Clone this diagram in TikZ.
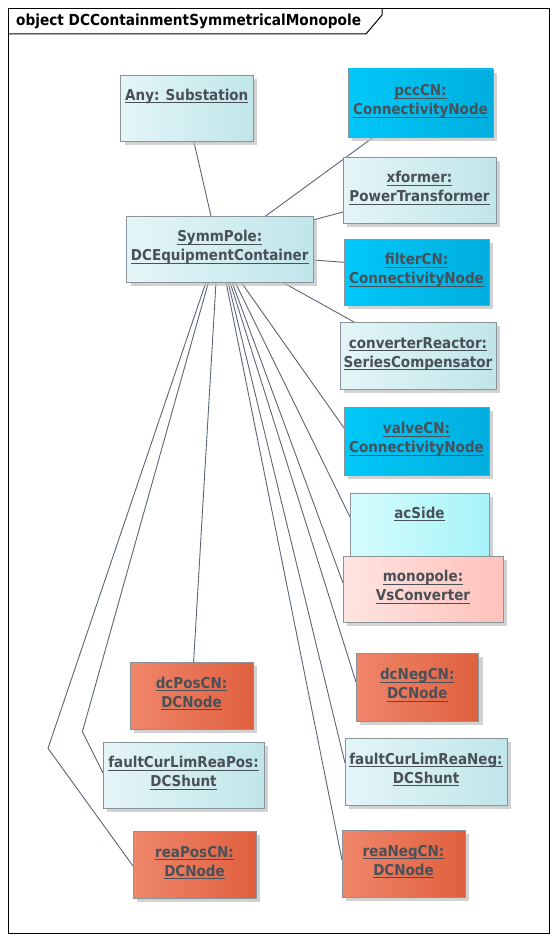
\documentclass[tikz,border=0pt]{standalone}
\usepackage{fontspec}
\setmainfont{DejaVu Sans Condensed}
\usetikzlibrary{shadows,backgrounds}

\definecolor{lightL}{HTML}{E4F5F7}
\definecolor{lightR}{HTML}{C0E6EA}
\definecolor{cnL}{HTML}{00C8F8}
\definecolor{cnR}{HTML}{00AEDF}
\definecolor{acL}{HTML}{D6FCFC}
\definecolor{acR}{HTML}{A6F4F8}
\definecolor{monoL}{HTML}{FFE4E0}
\definecolor{monoR}{HTML}{FFC2BA}
\definecolor{dcL}{HTML}{EF866A}
\definecolor{dcR}{HTML}{E0603F}
\definecolor{boxline}{HTML}{8A9498}
\definecolor{txtgray}{HTML}{4A5058}
\definecolor{linkcol}{HTML}{5B6478}

% underlined object name
\newcommand\ulname[1]{\setbox0\hbox{#1}\rlap{\rule[-3.2pt]{\wd0}{1.1pt}}\box0}
% label block, raised by #1 inside its box
\newcommand\objtext[2]{\raisebox{#1}[0pt][0pt]{\begin{tabular}{@{}c@{}}#2\end{tabular}}}

\begin{document}
\begin{tikzpicture}[
      x=1pt, y=-1pt,
      obj/.style = {draw=boxline, line width=0.9pt, anchor=north west, outer sep=0pt,
                    inner sep=0pt, text=txtgray, font=\fontsize{15}{19}\bfseries\selectfont,
                    drop shadow={shadow xshift=4pt, shadow yshift=-4pt, fill=black!25, opacity=.7}},
      light/.style = {obj, left color=lightL, right color=lightR},
      cn/.style = {obj, left color=cnL, right color=cnR},
      ac/.style = {obj, left color=acL, right color=acR},
      mono/.style = {obj, left color=monoL, right color=monoR},
      dc/.style = {obj, left color=dcL, right color=dcR},
      link/.style = {draw=linkcol, line width=0.9pt}
      ]
      \useasboundingbox (0,0) rectangle (556,942);

      % frame and title
      \draw[line width=1pt] (8.5,8.5) rectangle (549.5,933.5);
      \draw[line width=1pt] (8.5,34) -- (366,34) -- (382,15) -- (382,8.5);
      \node[anchor=base west, inner sep=0pt, font=\fontsize{15.2}{19}\bfseries\selectfont] (title) at (16,26) {object DCContainmentSymmetricalMonopole};

      % objects
      \node[light, minimum width=132.5pt, minimum height=66pt] (any) at (120.5,75) {\objtext{8pt}{\ulname{Any: Substation}}};
      \node[cn, minimum width=145pt, minimum height=68pt] (pcc) at (348,69) {\objtext{-2pt}{\ulname{pccCN:}\\ \ulname{ConnectivityNode}}};
      \node[light, minimum width=153pt, minimum height=66pt] (xf) at (343,157) {\objtext{-2pt}{\ulname{xformer:}\\ \ulname{PowerTransformer}}};
      \node[light, minimum width=186.5pt, minimum height=66pt] (sym) at (126.5,216) {\objtext{-2pt}{\ulname{SymmPole:}\\ \ulname{DCEquipmentContainer}}};
      \node[cn, minimum width=145pt, minimum height=66pt] (flt) at (344,239) {\objtext{-2pt}{\ulname{filterCN:}\\ \ulname{ConnectivityNode}}};
      \node[light, minimum width=156pt, minimum height=67pt] (conv) at (340,322) {\objtext{-2pt}{\ulname{converterReactor:}\\ \ulname{SeriesCompensator}}};
      \node[cn, minimum width=145pt, minimum height=68pt] (valve) at (344,407) {\objtext{-2pt}{\ulname{valveCN:}\\ \ulname{ConnectivityNode}}};
      \node[ac, minimum width=139pt, minimum height=66pt] (acs) at (350,493) {\objtext{8pt}{\ulname{acSide}}};
      \node[mono, minimum width=160pt, minimum height=66pt] (mono) at (343,556) {\objtext{-2pt}{\ulname{monopole:}\\ \ulname{VsConverter}}};
      \node[dc, minimum width=123pt, minimum height=67pt] (dcpos) at (130,662) {\objtext{-2pt}{\ulname{dcPosCN:}\\ \ulname{DCNode}}};
      \node[dc, minimum width=122.5pt, minimum height=68pt] (dcneg) at (356,653) {\objtext{-2pt}{\ulname{dcNegCN:}\\ \ulname{DCNode}}};
      \node[light, minimum width=161pt, minimum height=66pt] (fpos) at (103,742) {\objtext{-2pt}{\ulname{faultCurLimReaPos:}\\ \ulname{DCShunt}}};
      \node[light, minimum width=162pt, minimum height=67pt] (fneg) at (345,738) {\objtext{-2pt}{\ulname{faultCurLimReaNeg:}\\ \ulname{DCShunt}}};
      \node[dc, minimum width=123pt, minimum height=67pt] (rpos) at (133,831) {\objtext{-2pt}{\ulname{reaPosCN:}\\ \ulname{DCNode}}};
      \node[dc, minimum width=123pt, minimum height=67pt] (rneg) at (342,830) {\objtext{-2pt}{\ulname{reaNegCN:}\\ \ulname{DCNode}}};

      \coordinate (bendF) at (82.4,731.7);
      \coordinate (bendR) at (48,748.3);

      % links
      \begin{scope}[on background layer]
      \path[link] ([xshift=7pt]any.south) -- ([xshift=-8.75pt]sym.north);
      \path[link] ([xshift=25.7pt]pcc.south west) -- ([xshift=139.2pt]sym.north west);
      \path[link] ([yshift=-55pt]xf.north west) -- ([yshift=-4pt]sym.north east);
      \path[link] ([yshift=-23.3pt]flt.north west) -- ([yshift=-44pt]sym.north east);
      \path[link] ([xshift=155.5pt]sym.south west) -- ([xshift=14pt]conv.north west);
      \path[link] ([xshift=114.5pt]sym.south west) -- ([yshift=-21pt]valve.north west);
      \path[link] ([xshift=108.5pt]sym.south west) -- ([yshift=-24pt]acs.north west);
      \path[link] ([xshift=105.5pt]sym.south west) -- ([yshift=-27pt]mono.north west);
      \path[link] ([xshift=103.5pt]sym.south west) -- ([yshift=-29pt]dcneg.north west);
      \path[link] ([xshift=101.5pt]sym.south west) -- ([yshift=-25pt]fneg.north west);
      \path[link] ([xshift=99.5pt]sym.south west) -- ([yshift=-30pt]rneg.north west);
      \path[link] ([xshift=89.5pt]sym.south west) -- ([xshift=63.6pt]dcpos.north west);
      \path[link] ([xshift=82pt]sym.south west) -- (bendF) -- ([yshift=-31pt]fpos.north west);
      \path[link] ([xshift=79.5pt]sym.south west) -- (bendR) -- ([yshift=-35pt]rpos.north west);
      \end{scope}
\end{tikzpicture}
\end{document}
